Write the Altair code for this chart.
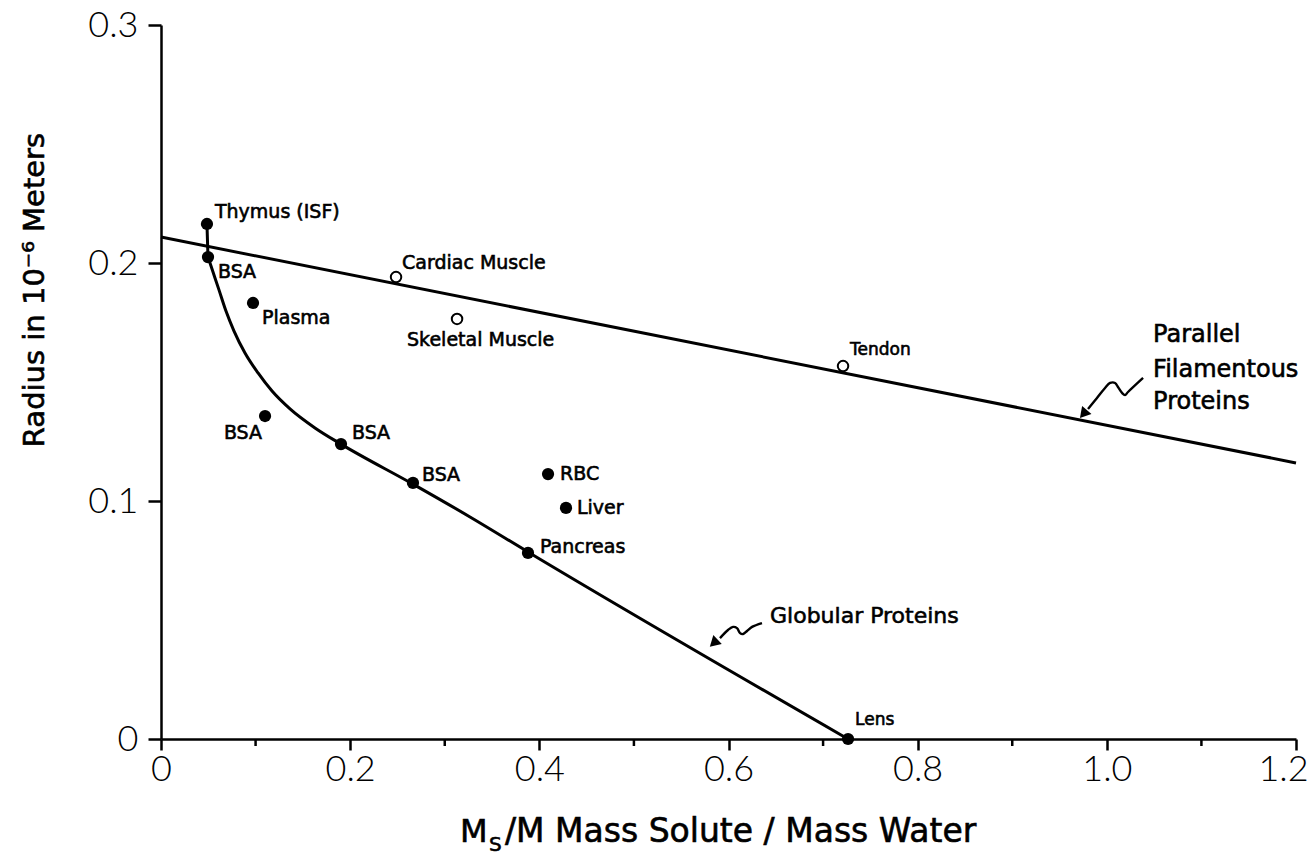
import altair as alt
import pandas as pd

# ---------------- data ----------------
# solid (filled) points
filled_names = ["Thymus (ISF)", "BSA", "Plasma", "BSA", "BSA", "BSA",
                "RBC", "Liver", "Pancreas", "Lens"]
filled_x = [0.0486, 0.0497, 0.0973, 0.110, 0.1903, 0.2664, 0.4092, 0.4282, 0.388, 0.7264]
filled_y = [0.2164, 0.2025, 0.1832, 0.1357, 0.1239, 0.1076, 0.1113, 0.0971, 0.0782, 0.0]

# open points
open_names = ["Cardiac Muscle", "Skeletal Muscle", "Tendon"]
open_x = [0.2485, 0.313, 0.7211]
open_y = [0.1941, 0.1765, 0.1567]

# globular-protein curve
stub_x = [0.0486, 0.0497]
stub_y = [0.2164, 0.2025]
glob_x = [0.0497, 0.0550, 0.0613, 0.0687, 0.0772, 0.0888, 0.1026, 0.1174,
          0.1364, 0.1628, 0.1903, 0.2664, 0.3267, 0.3880, 0.7264]
glob_y = [0.2025, 0.1962, 0.1887, 0.1798, 0.1714, 0.1622, 0.1538, 0.1462,
          0.1387, 0.1307, 0.1239, 0.1071, 0.0933, 0.0786, 0.0]

# parallel filamentous protein line (end points)
fil_x = [0.0, 1.2]
fil_y = [0.2109, 0.1160]

# curly annotation arrows
arrow1_x = [0.6354, 0.6249, 0.6196, 0.6154, 0.6122, 0.6090, 0.6048, 0.5995, 0.5910]
arrow1_y = [0.0487, 0.0471, 0.0454, 0.0441, 0.0445, 0.0466, 0.0471, 0.0458, 0.0424]
head1 = (0.5857, 0.0408)
arrow2_x = [1.0383, 1.0224, 1.0192, 1.0161, 1.0118, 1.0087, 1.0034, 0.9981, 0.9896, 0.9801]
arrow2_y = [0.1517, 0.1458, 0.1445, 0.1454, 0.1479, 0.1496, 0.1496, 0.1475, 0.1433, 0.1387]
head2 = (0.9764, 0.1371)

glob_label = ("Globular Proteins", 0.6439, 0.0517)
fil_label_lines = ["Parallel", "Filamentous", "Proteins"]
fil_label_x = 1.0489
fil_label_y = [0.1697, 0.1550, 0.1416]

x_ticks = [0, 0.2, 0.4, 0.6, 0.8, 1.0, 1.2]
x_minor = [0.1, 0.3, 0.5, 0.7, 0.9, 1.1]
y_ticks = [0, 0.1, 0.2, 0.3]

# ---------------- styling ----------------
W, H = 1135, 714
LBL_FONT = "DejaVu Sans"
TICK_FONT = "Lato"

# label offsets (pixels) for filled and open point labels: dx, dy, align
filled_off = [(8, -12, "left"), (10, 15, "left"), (9, 15, "left"), (-3, 17, "right"),
              (11, -11, "left"), (9, -8, "left"), (12, 0, "left"), (11, 0, "left"),
              (12, -6, "left"), (7, -19, "left")]
open_off = [(6, -14, "left"), (-50, 21, "left"), (7, -16, "left")]

xs = alt.Scale(domain=[0, 1.2], nice=False, zero=False)
ys = alt.Scale(domain=[0, 0.3], nice=False, zero=False)
lab_expr = "datum.value == 0 ? '0' : format(datum.value, '.1f')"

x_axis = alt.Axis(
    values=x_ticks, labelExpr=lab_expr, title=None, grid=False,
    domainColor="black", domainWidth=2.5, tickColor="black", tickWidth=2.5,
    tickSize=11, labelFont=TICK_FONT, labelFontWeight=300, labelFontSize=36,
    labelColor="black", labelPadding=2, labelFlush=False,
    labelOffset={"condition": {"test": "datum.value > 1.1", "value": -13}, "value": 0})
y_axis = alt.Axis(
    values=y_ticks, labelExpr=lab_expr, title=None, grid=False,
    domainColor="black", domainWidth=2.5, tickColor="black", tickWidth=2.5,
    tickSize=13, labelFont=TICK_FONT, labelFontWeight=300, labelFontSize=36,
    labelColor="black", labelPadding=10, labelFlush=False)


def xq(f="x"):
    return alt.X(f"{f}:Q", scale=xs, axis=x_axis)


def yq(f="y"):
    return alt.Y(f"{f}:Q", scale=ys, axis=y_axis)


layers = []

layers.append(alt.Chart(pd.DataFrame({"x": fil_x, "y": fil_y})).mark_line(
    color="black", strokeWidth=3).encode(x=xq(), y=yq()))
layers.append(alt.Chart(pd.DataFrame({"x": stub_x, "y": stub_y})).mark_line(
    color="black", strokeWidth=3).encode(x=xq(), y=yq()))
layers.append(alt.Chart(pd.DataFrame({"x": glob_x, "y": glob_y})).mark_line(
    color="black", strokeWidth=3, interpolate="monotone").encode(x=xq(), y=yq()))

# minor ticks on x axis
layers.append(alt.Chart(pd.DataFrame({"x": x_minor})).mark_rule(
    color="black", strokeWidth=2.5).encode(
    x=xq(), y=alt.value(H), y2=alt.value(H + 7)))

# points
layers.append(alt.Chart(pd.DataFrame({"x": filled_x, "y": filled_y})).mark_circle(
    size=150, color="black", opacity=1).encode(x=xq(), y=yq()))
layers.append(alt.Chart(pd.DataFrame({"x": open_x, "y": open_y})).mark_point(
    shape="circle", size=110, filled=True, fill="white", stroke="black",
    strokeWidth=2, opacity=1).encode(x=xq(), y=yq()))


# point labels
def label_layer(name, x, y, off, fs=19):
    dx, dy, al = off
    return alt.Chart(pd.DataFrame({"x": [x], "y": [y], "t": [name]})).mark_text(
        align=al, baseline="middle", dx=dx, dy=dy, font=LBL_FONT, fontSize=fs,
        color="black", stroke="black", strokeWidth=0.6).encode(
        x=xq(), y=yq(), text="t:N")


for n, x, y, o in zip(filled_names, filled_x, filled_y, filled_off):
    layers.append(label_layer(n, x, y, o, 17 if n == "Lens" else 19))
for n, x, y, o in zip(open_names, open_x, open_y, open_off):
    layers.append(label_layer(n, x, y, o, 17 if n == "Tendon" else 19))

# annotation arrows
for ax_, ay_, hd, ang in [(arrow1_x, arrow1_y, head1, 226.6), (arrow2_x, arrow2_y, head2, 220.4)]:
    adf = pd.DataFrame({"x": ax_, "y": ay_, "o": list(range(len(ax_)))})
    layers.append(alt.Chart(adf).mark_line(color="black", strokeWidth=2.4,
                                           interpolate="catmull-rom").encode(
        x=xq(), y=yq(), order="o:Q"))
    layers.append(alt.Chart(pd.DataFrame({"x": [hd[0]], "y": [hd[1]]})).mark_point(
        shape="triangle", size=150, filled=True, color="black", opacity=1,
        angle=ang).encode(x=xq(), y=yq()))

# annotation texts
layers.append(alt.Chart(pd.DataFrame({"x": [glob_label[1]], "y": [glob_label[2]],
                                      "t": [glob_label[0]]})).mark_text(
    align="left", baseline="middle", font=LBL_FONT, fontSize=22, color="black",
    stroke="black", strokeWidth=0.6).encode(x=xq(), y=yq(), text="t:N"))
layers.append(alt.Chart(pd.DataFrame({"x": [fil_label_x] * 3, "y": fil_label_y,
                                      "t": fil_label_lines})).mark_text(
    align="left", baseline="middle", font=LBL_FONT, fontSize=24, color="black",
    stroke="black", strokeWidth=0.6).encode(x=xq(), y=yq(), text="t:N"))


# axis titles as text
def free_text(t, x, y, fs, angle=0, align="left", baseline="alphabetic"):
    return alt.Chart(pd.DataFrame({"t": [t]})).mark_text(
        font=LBL_FONT, fontSize=fs, color="black", stroke="black", strokeWidth=0.6,
        align=align, baseline=baseline, angle=angle).encode(
        x=alt.value(x), y=alt.value(y), text="t:N")


layers.append(free_text("Radius in 10\u207b\u2076 Meters", -126, 265, 29, angle=270,
                        align="center", baseline="middle"))
layers.append(free_text("M", 299, 817, 32))
layers.append(free_text("S", 328, 826, 20))
layers.append(free_text("/M Mass Solute / Mass Water", 344, 817, 33))

chart = alt.layer(*layers).properties(
    width=W, height=H,
    autosize=alt.AutoSizeParams(type="none"),
    padding={"left": 161, "top": 25, "right": 16, "bottom": 118},
    background="white",
).configure_view(stroke=None)

chart.save("out.html", embed_options={"renderer": "svg", "actions": False})
